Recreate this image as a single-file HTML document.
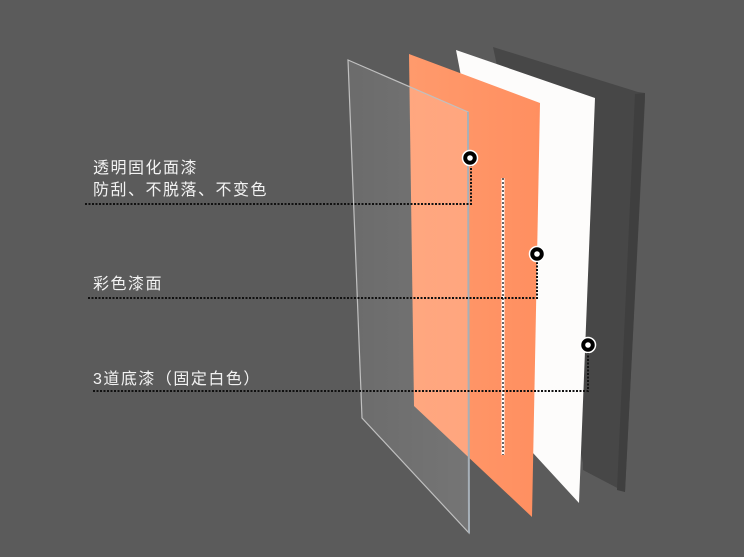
<!DOCTYPE html>
<html><head><meta charset="utf-8"><style>
html,body{margin:0;padding:0;background:#5b5b5b;}
svg{display:block}
text{font-family:"Liberation Sans","Noto Sans CJK SC",sans-serif;fill:#f2f2f2;font-size:16px;letter-spacing:1.5px}
</style></head><body>
<svg width="744" height="557" viewBox="0 0 744 557" xmlns="http://www.w3.org/2000/svg">
<defs>
<linearGradient id="og" x1="0" x2="1"><stop offset="0" stop-color="#ff9a6c"/><stop offset="1" stop-color="#ff8f60"/></linearGradient>
<linearGradient id="gg" x1="0" x2="1"><stop offset="0" stop-color="#ffffff" stop-opacity="0.1"/><stop offset="1" stop-color="#ffffff" stop-opacity="0.16"/></linearGradient>
</defs>
<rect width="744" height="557" fill="#5b5b5b"/>
<polygon points="493,47 638,92 645,93 645,100 625,492 583,470 583,463" fill="#474747"/>
<polygon points="635,94 645,93 625,492 617,490" fill="#3f3f3f"/>
<polygon points="456,50 595,98 579,503 533,453" fill="#fdfcfb"/>
<polygon points="409,54 540,103 532,517 414,406" fill="url(#og)"/>
<polygon points="348,60 468,112 469,533 362,418" fill="url(#gg)" stroke="#c0c0c0" stroke-width="1.2"/>
<line x1="468" y1="112" x2="469" y2="533" stroke="#a7b0b8" stroke-width="2"/>
<line x1="503" y1="178" x2="503" y2="455" stroke="#fff" stroke-width="3"/>
<line x1="503" y1="178" x2="503" y2="455" stroke="#000" stroke-width="1.2" stroke-dasharray="2,2"/>
<g stroke="#111" stroke-width="2" stroke-dasharray="2,1.5" fill="none">
<polyline points="85,204 471,204 471,160"/>
<polyline points="88,298 537,298 537,256"/>
<polyline points="93,391 588,391 588,347"/>
</g>
<g fill="#000" stroke="#fff" stroke-width="1.5">
<circle cx="470" cy="158" r="7.5"/>
<circle cx="537" cy="254" r="7.5"/>
<circle cx="588" cy="345" r="7.5"/>
</g>
<g fill="#fff"><circle cx="470" cy="158" r="2.8"/><circle cx="537" cy="254" r="2.8"/><circle cx="588" cy="345" r="2.8"/></g>
<text x="93" y="173">透明固化面漆</text>
<text x="93" y="195">防刮、不脱落、不变色</text>
<text x="93" y="289">彩色漆面</text>
<text x="93" y="384">3道底漆（固定白色）</text>
</svg>
</body></html>
